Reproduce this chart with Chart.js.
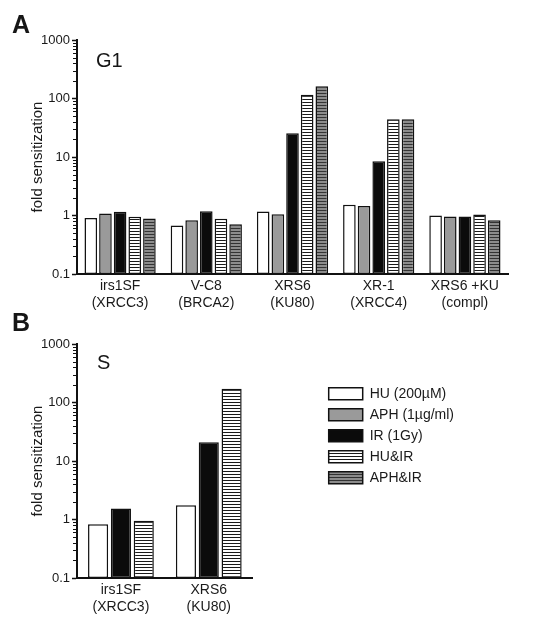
<!DOCTYPE html>
<html>
<head>
<meta charset="utf-8">
<script src="https://cdn.jsdelivr.net/npm/chart.js@4.4.1/dist/chart.umd.min.js"></script>
<style>
  body { margin: 0; background: #fff; }
  #wrap { position: relative; width: 545px; height: 625px; background: #fff; font-family: 'Liberation Sans', Arial, sans-serif; color: #161616; }
  canvas { position: absolute; left: 0; }
  .lbl { position: absolute; line-height: 1; white-space: nowrap; }
  .panel { font-size: 25px; font-weight: bold; }
  .phase { font-size: 20px; }
</style>
</head>
<body>
<div id="wrap">
  <canvas id="chartA" width="545" height="315" style="top:0"></canvas>
  <canvas id="chartB" width="545" height="310" style="top:315px"></canvas>
  <div class="lbl panel" style="left:12px;top:12px">A</div>
  <div class="lbl panel" style="left:12px;top:310px">B</div>
  <div class="lbl phase" style="left:96px;top:50px">G1</div>
  <div class="lbl phase" style="left:97px;top:352px">S</div>
</div>
<script>
// treatments (legend)
var seriesNames = ["HU (200µM)", "APH (1µg/ml)", "IR (1Gy)", "HU&IR", "APH&IR"];

// panel A - G1
var g1Labels = [["irs1SF", "(XRCC3)"], ["V-C8", "(BRCA2)"], ["XRS6", "(KU80)"], ["XR-1", "(XRCC4)"], ["XRS6 +KU", "(compl)"]];
var g1HU    = [0.91, 0.675, 1.17, 1.52, 1.0];
var g1APH   = [1.08, 0.83, 1.05, 1.46, 0.96];
var g1IR    = [1.16, 1.18, 25.5, 8.5, 0.96];
var g1HUIR  = [0.95, 0.88, 116, 44, 1.04];
var g1APHIR = [0.89, 0.71, 162, 44, 0.83];

// panel B - S
var sLabels = [["irs1SF", "(XRCC3)"], ["XRS6", "(KU80)"]];
var sHU    = [0.83, 1.76];
var sAPH   = [null, null];
var sIR    = [1.54, 21];
var sHUIR  = [0.95, 172];
var sAPHIR = [null, null];

var yTicks = [0.1, 1, 10, 100, 1000];
var minorDecades = [0.1, 1, 10, 100];

var FONT = "'Liberation Sans', Arial, sans-serif";
var INK = '#111';

function stripes(ctx, base, line){
    let c = document.createElement('canvas');
    c.width = 4; c.height = 3;
    let x = c.getContext('2d');
    x.fillStyle = base; x.fillRect(0, 0, 4, 3);
    x.fillStyle = line; x.fillRect(0, 0, 4, 1);
    return ctx.createPattern(c, 'repeat');
}

function makeDatasets(ctx, values){
    let fills = ['#ffffff', '#9a9a9a', '#0b0b0b', stripes(ctx, '#ffffff', '#1a1a1a'), stripes(ctx, '#8c8c8c', '#333333')];
    return values.map(function(v, i){
        return {
            label: seriesNames[i],
            data: v,
            backgroundColor: fills[i],
            borderColor: INK,
            borderWidth: 1.5,
            borderSkipped: false
        };
    });
}

// short log ticks 2..9 on the y axis
var minorTicks = {
    id: 'minorTicks',
    afterDraw: function(chart){
        let s = chart.scales.y;
        let ctx = chart.ctx;
        ctx.save();
        ctx.strokeStyle = INK;
        ctx.lineWidth = 1.2;
        ctx.beginPath();
        minorDecades.forEach(function(d){
            for (let k = 2; k < 10; k++) {
                let y = Math.round(s.getPixelForValue(d * k)) + 0.5;
                ctx.moveTo(s.right - 4, y);
                ctx.lineTo(s.right, y);
            }
        });
        ctx.stroke();
        ctx.restore();
    }
};

function yScale(){
    return {
        type: 'logarithmic',
        min: 0.1,
        max: 1000,
        afterFit: function(s){ s.width = 77; },
        afterBuildTicks: function(s){ s.ticks = yTicks.map(function(v){ return {value: v, major: true}; }); },
        ticks: {
            autoSkip: false,
            padding: 2,
            color: '#1a1a1a',
            font: {family: FONT, size: 13},
            callback: function(v){ return String(v); }
        },
        grid: { drawOnChartArea: false, drawTicks: true, tickLength: 5, tickWidth: 1.5, color: INK },
        border: { display: true, width: 2, color: INK },
        title: {
            display: true,
            text: 'fold sensitization',
            color: '#1a1a1a',
            font: {family: FONT, size: 15},
            padding: {top: 29, bottom: 0}
        }
    };
}

function xScale(h){
    return {
        type: 'category',
        offset: true,
        afterFit: function(s){ s.height = h; },
        grid: { display: false, drawTicks: false },
        border: { display: true, width: 2, color: INK },
        ticks: {
            autoSkip: false,
            maxRotation: 0,
            padding: 3,
            color: '#1a1a1a',
            font: {family: FONT, size: 14, lineHeight: 1.25}
        }
    };
}

window.onload = function(){
    let ctxA = document.getElementById('chartA').getContext('2d');
    new Chart(ctxA, {
        type: 'bar',
        data: {
            labels: g1Labels,
            datasets: makeDatasets(ctxA, [g1HU, g1APH, g1IR, g1HUIR, g1APHIR])
        },
        options: {
            responsive: false,
            animation: false,
            devicePixelRatio: 1,
            layout: { padding: {top: 40, right: 37, bottom: 0, left: 0} },
            datasets: { bar: { categoryPercentage: 0.85, barPercentage: 0.86 } },
            plugins: { legend: { display: false }, tooltip: { enabled: false } },
            scales: { x: xScale(41), y: yScale() }
        },
        plugins: [minorTicks]
    });

    let ctxB = document.getElementById('chartB').getContext('2d');
    new Chart(ctxB, {
        type: 'bar',
        data: {
            labels: sLabels,
            datasets: makeDatasets(ctxB, [sHU, sAPH, sIR, sHUIR, sAPHIR])
        },
        options: {
            responsive: false,
            animation: false,
            devicePixelRatio: 1,
            layout: { padding: {top: 29, right: 81, bottom: 0, left: 0} },
            datasets: { bar: { categoryPercentage: 0.78, barPercentage: 0.88, skipNull: true } },
            plugins: {
                tooltip: { enabled: false },
                legend: {
                    display: true,
                    position: 'right',
                    align: 'start',
                    fullSize: false,
                    maxWidth: 300,
                    title: { display: true, text: '', font: {family: FONT, size: 14}, padding: {top: 19, bottom: 0} },
                    labels: {
                        boxWidth: 34,
                        boxHeight: 12,
                        padding: 7,
                        color: '#1a1a1a',
                        font: {family: FONT, size: 14}
                    }
                }
            },
            scales: {
                x: xScale(47),
                y: yScale(),
                gap: {
                    type: 'linear',
                    position: 'right',
                    display: true,
                    afterFit: function(s){ s.width = 69; },
                    grid: { display: false, drawTicks: false },
                    border: { display: false },
                    ticks: { display: false }
                }
            }
        },
        plugins: [minorTicks]
    });
}
</script>
</body>
</html>
